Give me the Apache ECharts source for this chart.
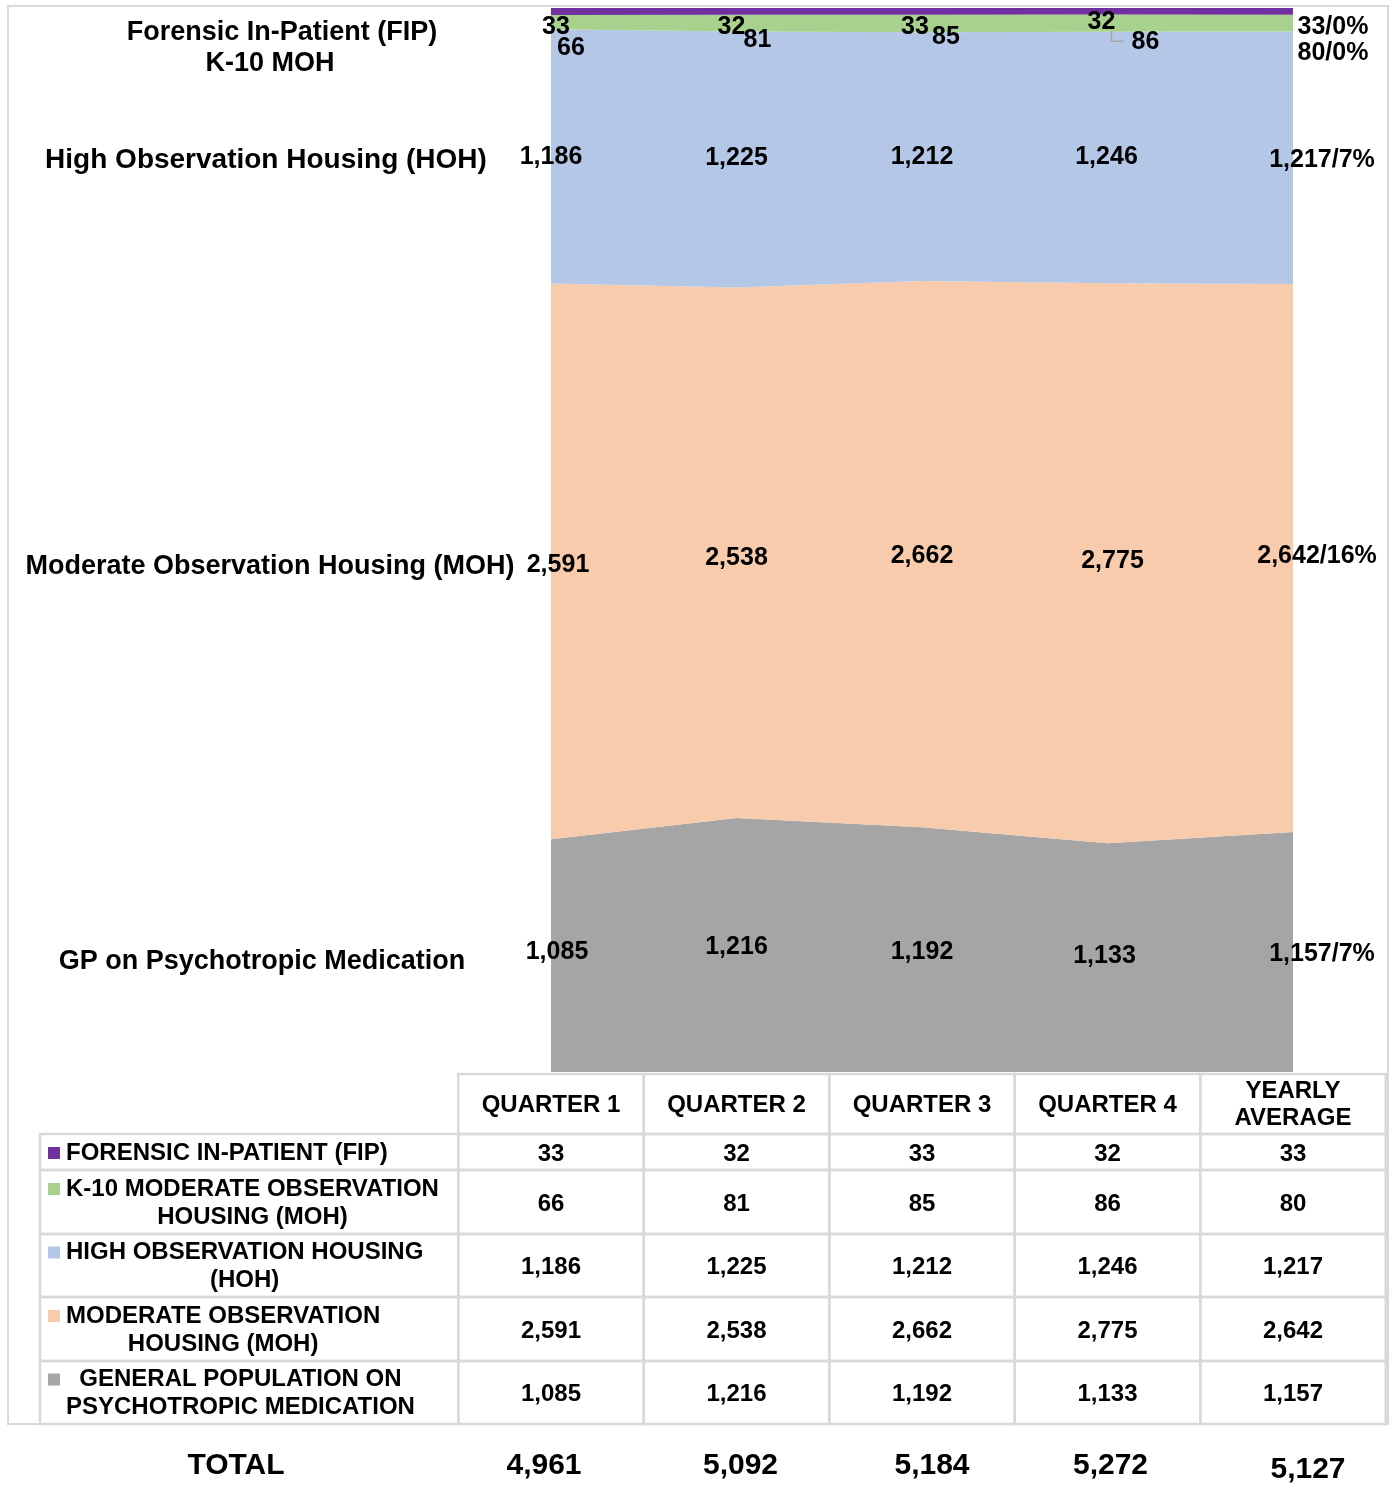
<!DOCTYPE html>
<html>
<head>
<meta charset="utf-8">
<script src="https://cdn.jsdelivr.net/npm/echarts@6/dist/echarts.min.js"></script>
<style>
  html, body { margin: 0; padding: 0; background: #fff; }
  #chart { width: 1395px; height: 1485px; }
</style>
</head>
<body>
<div id="chart"></div>
<script>
const categories = ['QUARTER 1', 'QUARTER 2', 'QUARTER 3', 'QUARTER 4', 'YEARLY\nAVERAGE']
const fip = [33, 32, 33, 32, 33]
const k10Moh = [66, 81, 85, 86, 80]
const hoh = [1186, 1225, 1212, 1246, 1217]
const moh = [2591, 2538, 2662, 2775, 2642]
const gpPsych = [1085, 1216, 1192, 1133, 1157]
const totals = [4961, 5092, 5184, 5272, 5127]
// shares printed after the yearly average values
const yearlyShares = { fip: 0, k10: 0, hoh: 7, moh: 16, gp: 7 }

const FONT = '"Liberation Sans", Arial, sans-serif'

// stacked bottom -> top
const layers = [
  { key: 'gp', data: gpPsych, color: '#a5a5a5', name: 'GP on Psychotropic Medication',
    rowName: 'GENERAL POPULATION ON\nPSYCHOTROPIC MEDICATION' },
  { key: 'moh', data: moh, color: '#f8cbad', name: 'Moderate Observation Housing (MOH)',
    rowName: 'MODERATE OBSERVATION\nHOUSING (MOH)' },
  { key: 'hoh', data: hoh, color: '#b4c7e7', name: 'High Observation Housing (HOH)',
    rowName: 'HIGH OBSERVATION HOUSING\n(HOH)' },
  { key: 'k10', data: k10Moh, color: '#a9d18e', name: 'K-10 MOH',
    rowName: 'K-10 MODERATE OBSERVATION\nHOUSING (MOH)' },
  { key: 'fip', data: fip, color: '#7030a0', name: 'Forensic In-Patient (FIP)',
    rowName: 'FORENSIC IN-PATIENT (FIP)' }
]

// label nudges (px) from the middle of each band, like the hand-placed excel labels
const labelNudge = {
  gp:  [[6, -4], [0, 2], [0, 2], [-3, -2], [29, 2]],
  moh: [[7, 4], [0, 5], [0, 2], [5, -2], [24, -2]],
  hoh: [[0, 1], [0, -1], [0, 1], [-1, 0], [29, 2]],
  k10: [[20, 26], [21, 17], [24, 14], [38, 19], [40, 30]],
  fip: [[5, 16], [-5, 16], [-7, 16], [-6, 11], [40, 16]]
}

const fmt = v => v.toLocaleString('en-US')

const colSums = categories.map((c, i) => layers.reduce((s, l) => s + l.data[i], 0))
const pct = layers.map(l => l.data.map((v, i) => v / colSums[i] * 100))

const areaSeries = layers.map((l, li) => ({
  name: l.name,
  type: 'line',
  stack: 'share',
  symbol: 'none',
  lineStyle: { width: 0 },
  areaStyle: { color: l.color, opacity: 1 },
  itemStyle: { color: l.color },
  data: pct[li]
}))

const labelSeries = layers.map((l, li) => ({
  type: 'scatter',
  silent: true,
  symbolSize: 0,
  z: 5,
  itemStyle: { opacity: 1 },
  label: {
    show: true,
    position: 'inside',
    color: '#000',
    textBorderWidth: 0,
    fontFamily: FONT,
    fontWeight: 'bold',
    fontSize: 25,
    formatter: p => {
      const v = l.data[p.dataIndex]
      return p.dataIndex === 4 ? fmt(v) + '/' + yearlyShares[l.key] + '%' : fmt(v)
    }
  },
  data: pct[li].map((p, i) => {
    let below = 0
    for (let k = 0; k < li; k++) below += pct[k][i]
    return { value: [i, below + p / 2], label: { offset: labelNudge[l.key][i] } }
  })
}))

const chart = echarts.init(document.getElementById('chart'))
chart.setOption({
  animation: false,
  backgroundColor: '#fff',
  grid: { left: 551, right: 102, top: 8, bottom: 413 },
  xAxis: {
    type: 'category',
    data: categories,
    boundaryGap: false,
    show: false
  },
  yAxis: { type: 'value', min: 0, max: 100, show: false },
  series: [...areaSeries, ...labelSeries]
})

// ---- names on the left, data table and totals ----
const measure = document.createElement('canvas').getContext('2d')
const textW = (txt, font) => {
  measure.font = font
  return Math.max(...txt.split('\n').map(t => measure.measureText(t).width))
}
const px = (i, v) => chart.convertToPixel({ xAxisIndex: 0, yAxisIndex: 0 }, [i, v])
const midOf = (li, i) => {
  let below = 0
  for (let k = 0; k < li; k++) below += pct[k][i]
  return below + pct[li][i] / 2
}

const g = []
const text = (t, x, y, size, opts = {}) => g.push({
  type: 'text',
  z: 10,
  style: Object.assign({
    text: t, x, y,
    align: 'center', verticalAlign: 'middle',
    font: 'bold ' + size + 'px ' + FONT,
    fill: '#000'
  }, opts)
})

// series names beside the areas
text('Forensic In-Patient (FIP)', 282, 33, 27)
text('K-10 MOH', 270, 64, 27)
const nameX = { hoh: 266, moh: 270, gp: 262 }
const nameDy = { hoh: 4, moh: 5, gp: 6 }
const nameSize = { hoh: 28, moh: 27, gp: 27 }
layers.forEach((l, li) => {
  if (!nameX[l.key]) return
  const p = px(0, midOf(li, 0))
  text(l.name, nameX[l.key], p[1] + nameDy[l.key], nameSize[l.key])
})

// leader line for the Q4 K-10 label
const lp = px(3, midOf(3, 3))
g.push({
  type: 'polyline', z: 10,
  shape: { points: [[lp[0] + 4, lp[1] + 7], [lp[0] + 4, lp[1] + 18], [lp[0] + 16, lp[1] + 18]] },
  style: { stroke: '#a6a6a6', lineWidth: 1.5, fill: null }
})

// outer frame
g.push({
  type: 'rect', z: 1,
  shape: { x: 8, y: 6, width: 1380, height: 1418 },
  style: { fill: null, stroke: '#d9d9d9', lineWidth: 2 }
})

// table
const step = px(1, 0)[0] - px(0, 0)[0]
const colX = categories.map((c, i) => px(i, 0)[0])
const headTop = 1074
const headBottom = 1134
const rowEdges = [1134, 1170, 1234, 1297, 1361, 1424]
const labelLeft = 40
const gridLine = { fill: null, stroke: '#d9d9d9', lineWidth: 2.5 }
const cell = (x, y, w, h) => g.push({ type: 'rect', z: 9, shape: { x, y, width: w, height: h }, style: gridLine })

categories.forEach((c, i) => {
  cell(colX[i] - step / 2, headTop, step, headBottom - headTop)
  text(c, colX[i], (headTop + headBottom) / 2 + 1, 24, { lineHeight: 27 })
})

const tableFont = 'bold 24px ' + FONT
const rows = layers.slice().reverse()
rows.forEach((l, r) => {
  const y0 = rowEdges[r]
  const y1 = rowEdges[r + 1]
  const cy = (y0 + y1) / 2 + 2
  cell(labelLeft, y0, colX[0] - step / 2 - labelLeft, y1 - y0)
  const nLines = l.rowName.split('\n').length
  const firstY = cy - (nLines - 1) * 28 / 2
  g.push({
    type: 'rect', z: 10,
    shape: { x: 48, y: firstY - 7, width: 12, height: 12 },
    style: { fill: l.color }
  })
  const w = textW(l.rowName, tableFont)
  text(l.rowName, 66 + w / 2, cy - 1, 24, { lineHeight: 28 })
  l.data.forEach((v, i) => {
    cell(colX[i] - step / 2, y0, step, y1 - y0)
    text(fmt(v), colX[i], cy, 24)
  })
})

// totals
const totalNudge = [-7, 4, 10, 3, 15]
text('TOTAL', 236, 1466, 30)
totals.forEach((v, i) => {
  text(fmt(v), colX[i] + totalNudge[i], i === 4 ? 1470 : 1466, 30)
})

chart.setOption({ graphic: { elements: g } })
</script>
</body>
</html>
